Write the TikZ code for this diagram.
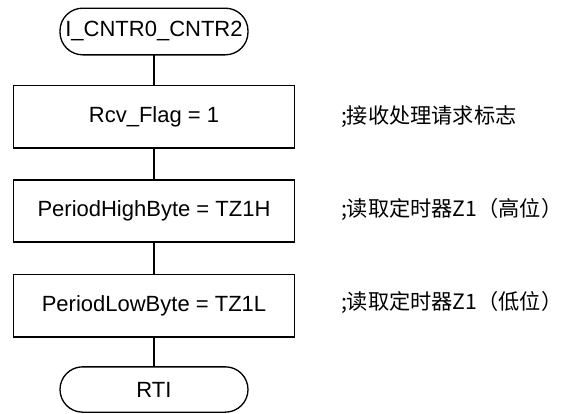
\documentclass[tikz,border=0pt]{standalone}
\usepackage{fontspec}
\setmainfont{Liberation Sans}
\newfontfamily\cjk{Noto Sans CJK SC}
\begin{document}
\begin{tikzpicture}[x=0.75pt,y=-0.75pt,
  every node/.style={inner sep=0pt,outer sep=0pt},
  flowline/.style={line width=1pt,draw=black},
  termbox/.style={draw=black,line width=1pt,rectangle,rounded corners=17pt,minimum width=141pt,minimum height=35pt,font=\fontsize{16.5pt}{18pt}\selectfont},
  procbox/.style={draw=black,line width=1pt,rectangle,minimum width=211pt,minimum height=47pt,font=\fontsize{16.5pt}{18pt}\selectfont},
  note/.style={anchor=west,font=\cjk\fontsize{15.9pt}{18pt}\selectfont}]
\useasboundingbox (0,0) rectangle (562,414);
\node[termbox,minimum height=35pt] (t1) at (154,31.5) {I\_CNTR0\_CNTR2};
\node[procbox] (b1) at (154,116.5) {Rcv\_Flag = 1};
\node[procbox,minimum height=46.5pt] (b2) at (154,211) {PeriodHighByte = TZ1H};
\node[procbox] (b3) at (154,305.5) {PeriodLowByte = TZ1L};
\node[termbox,minimum height=34pt] (t2) at (154,389.5) {RTI};
\node[note] (c1) at (341,116.5) {;接收处理请求标志};
\node[note] (c2) at (341,209) {;读取定时器Z1（高位）};
\node[note] (c3) at (341,302.5) {;读取定时器Z1（低位）};
\draw[flowline] (t1) -- (b1);
\draw[flowline] (b1) -- (b2);
\draw[flowline] (b2) -- (b3);
\draw[flowline] (b3) -- (t2);
\end{tikzpicture}
\end{document}
